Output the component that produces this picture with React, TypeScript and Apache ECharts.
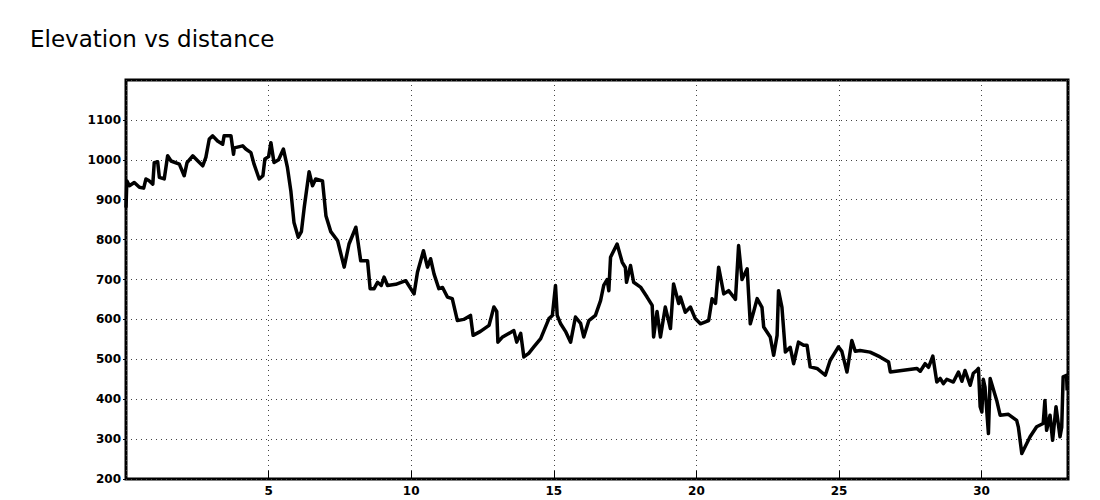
import React, { useEffect, useRef } from "react";
import * as echarts from "echarts";

const titleText = "Elevation vs distance";

const distance = [
  0, 0.03, 0.12, 0.29, 0.47, 0.62, 0.7, 0.8, 0.94, 0.99, 1.11, 1.17, 1.34, 1.46, 1.58, 1.87, 2.04, 2.14, 2.34, 2.52,
  2.69, 2.8, 2.92, 3.04, 3.21, 3.39, 3.44, 3.68, 3.77, 3.8, 4.09, 4.2, 4.38, 4.49, 4.67, 4.8, 4.87, 5.0, 5.08, 5.19,
  5.35, 5.52, 5.66, 5.78, 5.89, 6.04, 6.15, 6.25, 6.42, 6.54, 6.65, 6.89, 7.01, 7.18, 7.42, 7.65, 7.82, 8.06, 8.23, 8.47,
  8.56, 8.7, 8.82, 8.95, 9.05, 9.17, 9.46, 9.81, 10.1, 10.22, 10.43, 10.57, 10.68, 10.8, 10.97, 11.1, 11.27, 11.44, 11.62, 11.84,
  12.08, 12.17, 12.43, 12.73, 12.9, 13.0, 13.04, 13.19, 13.6, 13.7, 13.84, 13.95, 14.12, 14.3, 14.54, 14.83, 14.95, 15.06, 15.12, 15.24,
  15.41, 15.59, 15.76, 15.94, 16.05, 16.23, 16.46, 16.64, 16.75, 16.87, 16.93, 16.99, 17.22, 17.4, 17.51, 17.55, 17.69, 17.8, 18.04, 18.27,
  18.45, 18.5, 18.62, 18.74, 18.91, 19.09, 19.2, 19.38, 19.44, 19.61, 19.79, 19.96, 20.14, 20.43, 20.55, 20.67, 20.78, 20.96, 21.13, 21.31,
  21.37, 21.48, 21.6, 21.78, 21.89, 22.01, 22.13, 22.3, 22.36, 22.59, 22.71, 22.83, 22.88, 23.0, 23.12, 23.29, 23.41, 23.58, 23.76, 23.88,
  23.99, 24.23, 24.52, 24.69, 24.98, 25.1, 25.28, 25.33, 25.45, 25.57, 25.74, 26.09, 26.44, 26.74, 26.8, 27.73, 27.85, 28.02, 28.14, 28.29,
  28.43, 28.55, 28.66, 28.78, 29.01, 29.19, 29.31, 29.42, 29.6, 29.71, 29.83, 29.89, 29.95, 30.01, 30.06, 30.12, 30.24, 30.3, 30.53, 30.65,
  30.94, 31.23, 31.29, 31.41, 31.7, 31.93, 32.16, 32.22, 32.28, 32.4, 32.49, 32.61, 32.75, 32.81, 32.86, 32.98, 33.0,
];

const elevation = [
  880, 947, 935, 943, 931, 929, 952, 948, 939, 993, 995, 956, 952, 1010, 997, 989, 960, 993, 1010, 997,
  985, 1006, 1052, 1060, 1047, 1039, 1060, 1060, 1014, 1030, 1035, 1027, 1018, 989, 952, 960, 1002, 1008, 1043, 993,
  1000, 1027, 981, 922, 843, 806, 820, 881, 970, 935, 952, 947, 860, 820, 797, 731, 789, 831, 747, 747,
  677, 677, 693, 685, 706, 685, 688, 697, 664, 718, 772, 731, 752, 714, 677, 680, 656, 652, 597, 600,
  610, 560, 570, 585, 631, 620, 543, 555, 572, 543, 565, 506, 515, 531, 552, 602, 610, 685, 610, 589,
  570, 543, 606, 590, 556, 597, 610, 647, 685, 700, 672, 756, 789, 743, 730, 693, 735, 693, 681, 656,
  635, 556, 620, 556, 631, 577, 689, 640, 656, 618, 631, 602, 589, 597, 652, 640, 731, 664, 672, 656,
  650, 785, 700, 727, 589, 620, 652, 630, 581, 556, 510, 560, 672, 630, 518, 530, 489, 543, 535, 535,
  481, 477, 460, 497, 531, 520, 468, 490, 547, 520, 522, 518, 506, 493, 468, 477, 470, 489, 480, 508,
  443, 452, 439, 450, 443, 468, 445, 472, 435, 465, 472, 477, 381, 368, 450, 430, 314, 452, 397, 360,
  362, 347, 330, 264, 306, 331, 339, 397, 322, 360, 297, 381, 306, 330, 456, 460, 422,
];

const xMin = 0;
const xMax = 33.03;
const xInterval = 5;
const yMin = 200;
const yMax = 1200;
const yInterval = 100;

export default function App() {
  const ref = useRef<HTMLDivElement>(null);

  useEffect(() => {
    if (!ref.current) return;
    const chart = echarts.init(ref.current, undefined, { renderer: "svg" });
    const labelFont = {
      fontFamily: "DejaVu Sans",
      fontSize: 12,
      fontWeight: "bold" as const,
      color: "#000",
    };
    chart.setOption({
      animation: false,
      backgroundColor: "#fff",
      title: {
        text: titleText,
        left: 25,
        top: 22,
        textStyle: {
          fontFamily: "DejaVu Sans",
          fontSize: 23,
          fontWeight: "normal",
          color: "#000",
        },
      },
      grid: {
        left: 126,
        right: 32,
        top: 80,
        bottom: 21,
        show: true,
        borderColor: "#000",
        borderWidth: 3,
        backgroundColor: "#fff",
      },
      xAxis: {
        type: "value",
        min: xMin,
        max: xMax,
        interval: xInterval,
        axisLine: { show: false },
        axisTick: { show: true, inside: true, length: 8, lineStyle: { color: "#000", width: 1 } },
        axisLabel: {
          ...labelFont,
          margin: 6,
          showMinLabel: false,
          showMaxLabel: false,
          formatter: (v: number) => (v > 0 && v % 5 === 0 ? String(v) : ""),
        },
        splitLine: { show: true, lineStyle: { color: "#444", width: 1, type: [1, 4] } },
      },
      yAxis: {
        type: "value",
        min: yMin,
        max: yMax,
        interval: yInterval,
        axisLine: { show: false },
        axisTick: { show: true, length: 3, lineStyle: { color: "#000", width: 1 } },
        axisLabel: {
          ...labelFont,
          margin: 5,
          showMaxLabel: false,
          formatter: (v: number) => String(v),
        },
        splitLine: { show: true, lineStyle: { color: "#444", width: 1, type: [1, 4] } },
      },
      series: [
        {
          type: "line",
          data: distance.map((d, i) => [d, elevation[i]]),
          showSymbol: false,
          symbol: "none",
          lineStyle: { color: "#000", width: 3.5, join: "round" },
          silent: true,
        },
      ],
    });
    return () => chart.dispose();
  }, []);

  return (
    <div
      ref={ref}
      style={{ position: "absolute", left: 0, top: 0, width: 1100, height: 500 }}
    />
  );
}
